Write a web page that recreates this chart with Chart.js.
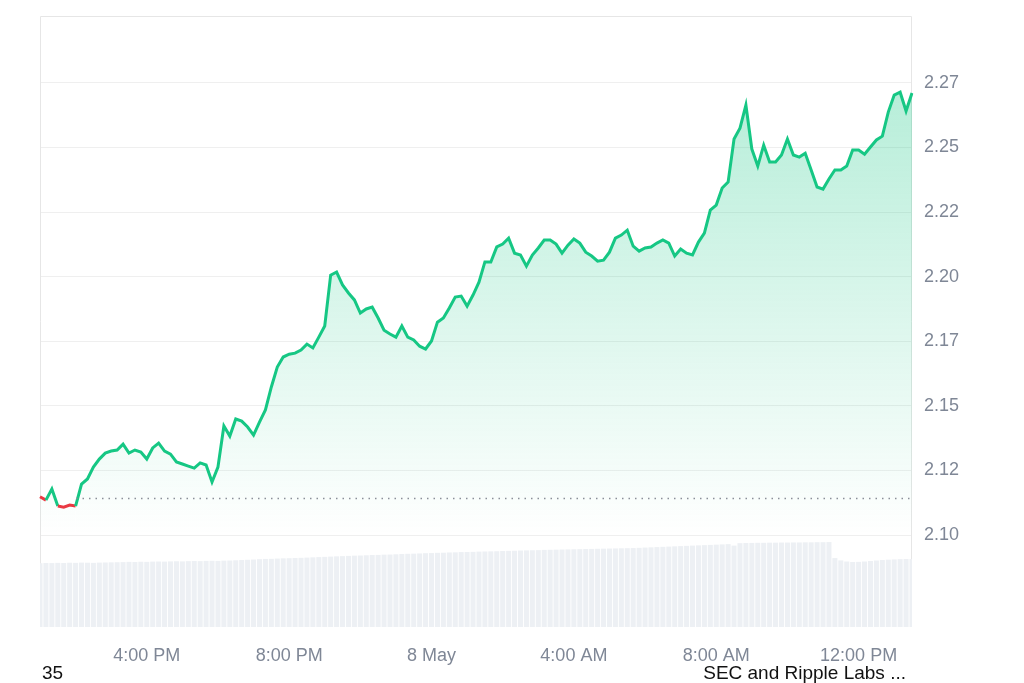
<!DOCTYPE html>
<html>
<head>
<meta charset="utf-8">
<script src="https://cdn.jsdelivr.net/npm/chart.js@4"></script>
<style>
    body { margin: 0; background: #fff; font-family: "Liberation Sans", Arial, sans-serif; }
    #wrap { position: relative; width: 1024px; height: 683px; }
    .note { position: absolute; font-size: 19px; color: #111; top: 662px; }
</style>
</head>
<body>
<div id="wrap">
    <canvas id="priceChart"></canvas>
    <div class="note" style="left:42px;">35</div>
    <div class="note" style="right:118px;">SEC and Ripple Labs ...</div>
</div>
<script>
// price every 10 minutes, 1:00 PM -> 1:30 PM next day
const prices = [
    2.1148, 2.1135, 2.1178, 2.1112, 2.1108, 2.1116, 2.1112, 2.1197, 2.1217, 2.1263,
    2.1294, 2.1317, 2.1325, 2.1329, 2.1352, 2.1317, 2.1329, 2.1321, 2.1294, 2.1337,
    2.1356, 2.1325, 2.1313, 2.1283, 2.1275, 2.1267, 2.1259, 2.1279, 2.1271, 2.1205,
    2.1263, 2.1422, 2.1383, 2.1449, 2.1441, 2.1418, 2.1387, 2.1437, 2.1484, 2.1573,
    2.1650, 2.1689, 2.1700, 2.1704, 2.1716, 2.1739, 2.1724, 2.1766, 2.1809, 2.2006,
    2.2018, 2.1968, 2.1937, 2.1910, 2.1859, 2.1875, 2.1882, 2.1840, 2.1793, 2.1778,
    2.1766, 2.1809, 2.1766, 2.1755, 2.1731, 2.1720, 2.1751, 2.1824, 2.1840, 2.1879,
    2.1921, 2.1925, 2.1886, 2.1929, 2.1979, 2.2057, 2.2057, 2.2115, 2.2126, 2.2149,
    2.2091, 2.2084, 2.2041, 2.2084, 2.2111, 2.2142, 2.2142, 2.2126, 2.2091, 2.2122,
    2.2146, 2.2130, 2.2095, 2.2080, 2.2060, 2.2064, 2.2095, 2.2149, 2.2161, 2.2180,
    2.2118, 2.2099, 2.2111, 2.2115, 2.2130, 2.2142, 2.2130, 2.2080, 2.2107, 2.2091,
    2.2084, 2.2134, 2.2169, 2.2258, 2.2277, 2.2343, 2.2366, 2.2533, 2.2575, 2.2664,
    2.2494, 2.2428, 2.2509, 2.2444, 2.2444, 2.2471, 2.2533, 2.2471, 2.2463, 2.2478,
    2.2413, 2.2347, 2.2339, 2.2378, 2.2413, 2.2413, 2.2428, 2.2490, 2.2490, 2.2474,
    2.2502, 2.2529, 2.2544, 2.2637, 2.2703, 2.2714, 2.2641, 2.2711
];

const volumes = [
    5.22, 5.24, 5.23, 5.25, 5.24, 5.26, 5.25, 5.27, 5.26, 5.25, 5.27, 5.28, 5.29,
    5.30, 5.31, 5.33, 5.32, 5.34, 5.33, 5.35, 5.36, 5.35, 5.37, 5.38, 5.37, 5.39, 5.40, 5.39, 5.41, 5.42, 5.41, 5.43, 5.44,
    5.46, 5.48, 5.50, 5.52, 5.55, 5.57, 5.58, 5.60, 5.62, 5.63, 5.65, 5.66, 5.68, 5.70, 5.72, 5.74, 5.76,
    5.78, 5.80, 5.82, 5.84, 5.85, 5.87, 5.89, 5.90, 5.92, 5.93, 5.95,
    5.97, 5.99, 6.00, 6.02, 6.04, 6.05, 6.07, 6.08, 6.10, 6.11, 6.13, 6.14, 6.15, 6.17, 6.18, 6.19, 6.20, 6.22, 6.23, 6.24,
    6.26, 6.27, 6.28, 6.29, 6.31, 6.32, 6.33, 6.34, 6.35, 6.36, 6.37, 6.38, 6.39, 6.40, 6.41, 6.42, 6.43, 6.44, 6.45, 6.46,
    6.48, 6.50, 6.52, 6.54, 6.56, 6.58, 6.60, 6.62, 6.64, 6.66, 6.68, 6.70, 6.72, 6.74, 6.76, 6.78,
    6.66,
    6.86, 6.87, 6.88, 6.89, 6.89, 6.90, 6.90, 6.91, 6.91, 6.92, 6.92, 6.93, 6.93, 6.94, 6.94, 6.95,
    5.64, 5.45, 5.36, 5.32, 5.33, 5.36, 5.40, 5.44, 5.48, 5.51, 5.53, 5.55, 5.56, 5.56
];

const baseline = 2.1145; // opening price, dotted line
const yTickValues = [2.10, 2.125, 2.15, 2.175, 2.20, 2.225, 2.25, 2.275];
const yTickLabels = ['2.10', '2.12', '2.15', '2.17', '2.20', '2.22', '2.25', '2.27'];
const xTickLabels = ['4:00 PM', '8:00 PM', '8 May', '4:00 AM', '8:00 AM', '12:00 PM'];

// time labels for each point
const times = [];
for (let i = 0; i < prices.length; i++) {
    const mins = 13 * 60 + i * 10;
    const h = Math.floor(mins / 60) % 24;
    const m = mins % 60;
    if (h === 0 && m === 0) {
        times.push('8 May');
        continue;
    }
    const h12 = h % 12 === 0 ? 12 : h % 12;
    times.push(h12 + ':' + String(m).padStart(2, '0') + (h < 12 ? ' AM' : ' PM'));
}

const GREEN = '#16c784';
const RED = '#ea3943';

const framePlugin = {
    id: 'frame',
    beforeDatasetsDraw(chart) {
        const { ctx, chartArea: a } = chart;
        ctx.save();
        ctx.strokeStyle = '#e6e6e6';
        ctx.lineWidth = 1;
        ctx.beginPath();
        ctx.moveTo(a.left + 0.5, a.bottom);
        ctx.lineTo(a.left + 0.5, a.top + 0.5);
        ctx.lineTo(a.right - 0.5, a.top + 0.5);
        ctx.lineTo(a.right - 0.5, a.bottom);
        ctx.stroke();
        ctx.restore();
    },
    afterDatasetsDraw(chart) {
        const { ctx, chartArea: a } = chart;
        const yb = Math.round(chart.scales.y.getPixelForValue(baseline)) + 0.5;
        ctx.save();
        ctx.strokeStyle = '#8a8f98';
        ctx.lineWidth = 1.5;
        ctx.setLineDash([1.5, 5]);
        ctx.beginPath();
        ctx.moveTo(a.left + 36, yb);
        ctx.lineTo(a.right, yb);
        ctx.stroke();
        ctx.restore();
    }
};

document.addEventListener('DOMContentLoaded', function() {
    const ctx = document.getElementById('priceChart').getContext('2d');

    new Chart(ctx, {
        data: {
            labels: times,
            datasets: [{
                type: 'line',
                data: prices,
                yAxisID: 'y',
                order: 0,
                borderColor: GREEN,
                borderWidth: 3,
                pointRadius: 0,
                tension: 0,
                fill: 'start',
                backgroundColor: function(c) {
                    const area = c.chart.chartArea;
                    if (!area) return 'rgba(22,199,132,0.2)';
                    const yEnd = c.chart.scales.y.getPixelForValue(2.10);
                    const g = c.chart.ctx.createLinearGradient(0, area.top, 0, yEnd);
                    g.addColorStop(0, 'rgba(22,199,132,0.36)');
                    g.addColorStop(1, 'rgba(22,199,132,0)');
                    return g;
                },
                segment: {
                    borderColor: function(s) {
                        return (s.p0.parsed.y + s.p1.parsed.y) / 2 < baseline ? RED : GREEN;
                    }
                }
            }, {
                type: 'bar',
                data: volumes,
                yAxisID: 'v',
                order: 1,
                backgroundColor: '#edf0f4',
                barPercentage: 0.85,
                categoryPercentage: 1.0
            }]
        },
        options: {
            responsive: true,
            maintainAspectRatio: false,
            animation: false,
            layout: { padding: { left: 40, top: 16, right: 0, bottom: 0 } },
            plugins: {
                legend: { display: false },
                tooltip: { enabled: false }
            },
            scales: {
                x: {
                    offset: false,
                    grid: { display: false },
                    border: { display: false },
                    afterFit: function(s) { s.height = 56; },
                    ticks: {
                        autoSkip: false,
                        maxRotation: 0,
                        padding: 10,
                        color: '#7f8796',
                        font: { family: 'Liberation Sans', size: 18 },
                        callback: function(value, index) {
                            const t = times[index];
                            return xTickLabels.includes(t) ? t : '';
                        }
                    }
                },
                y: {
                    position: 'right',
                    min: 2.0644,
                    max: 2.3009,
                    afterBuildTicks: function(s) {
                        s.ticks = yTickValues.map(v => ({ value: v }));
                    },
                    afterFit: function(s) {
                        s.width = 112;
                        s.paddingTop = 0;
                        s.paddingBottom = 0;
                    },
                    grid: { color: '#efefef', drawTicks: false },
                    border: { display: false },
                    ticks: {
                        padding: 12,
                        color: '#7f8796',
                        font: { family: 'Liberation Sans', size: 18 },
                        callback: function(value, index) {
                            return yTickLabels[index];
                        }
                    }
                },
                v: {
                    display: false,
                    min: 0,
                    max: 50
                }
            }
        },
        plugins: [framePlugin]
    });
});
</script>
</body>
</html>
